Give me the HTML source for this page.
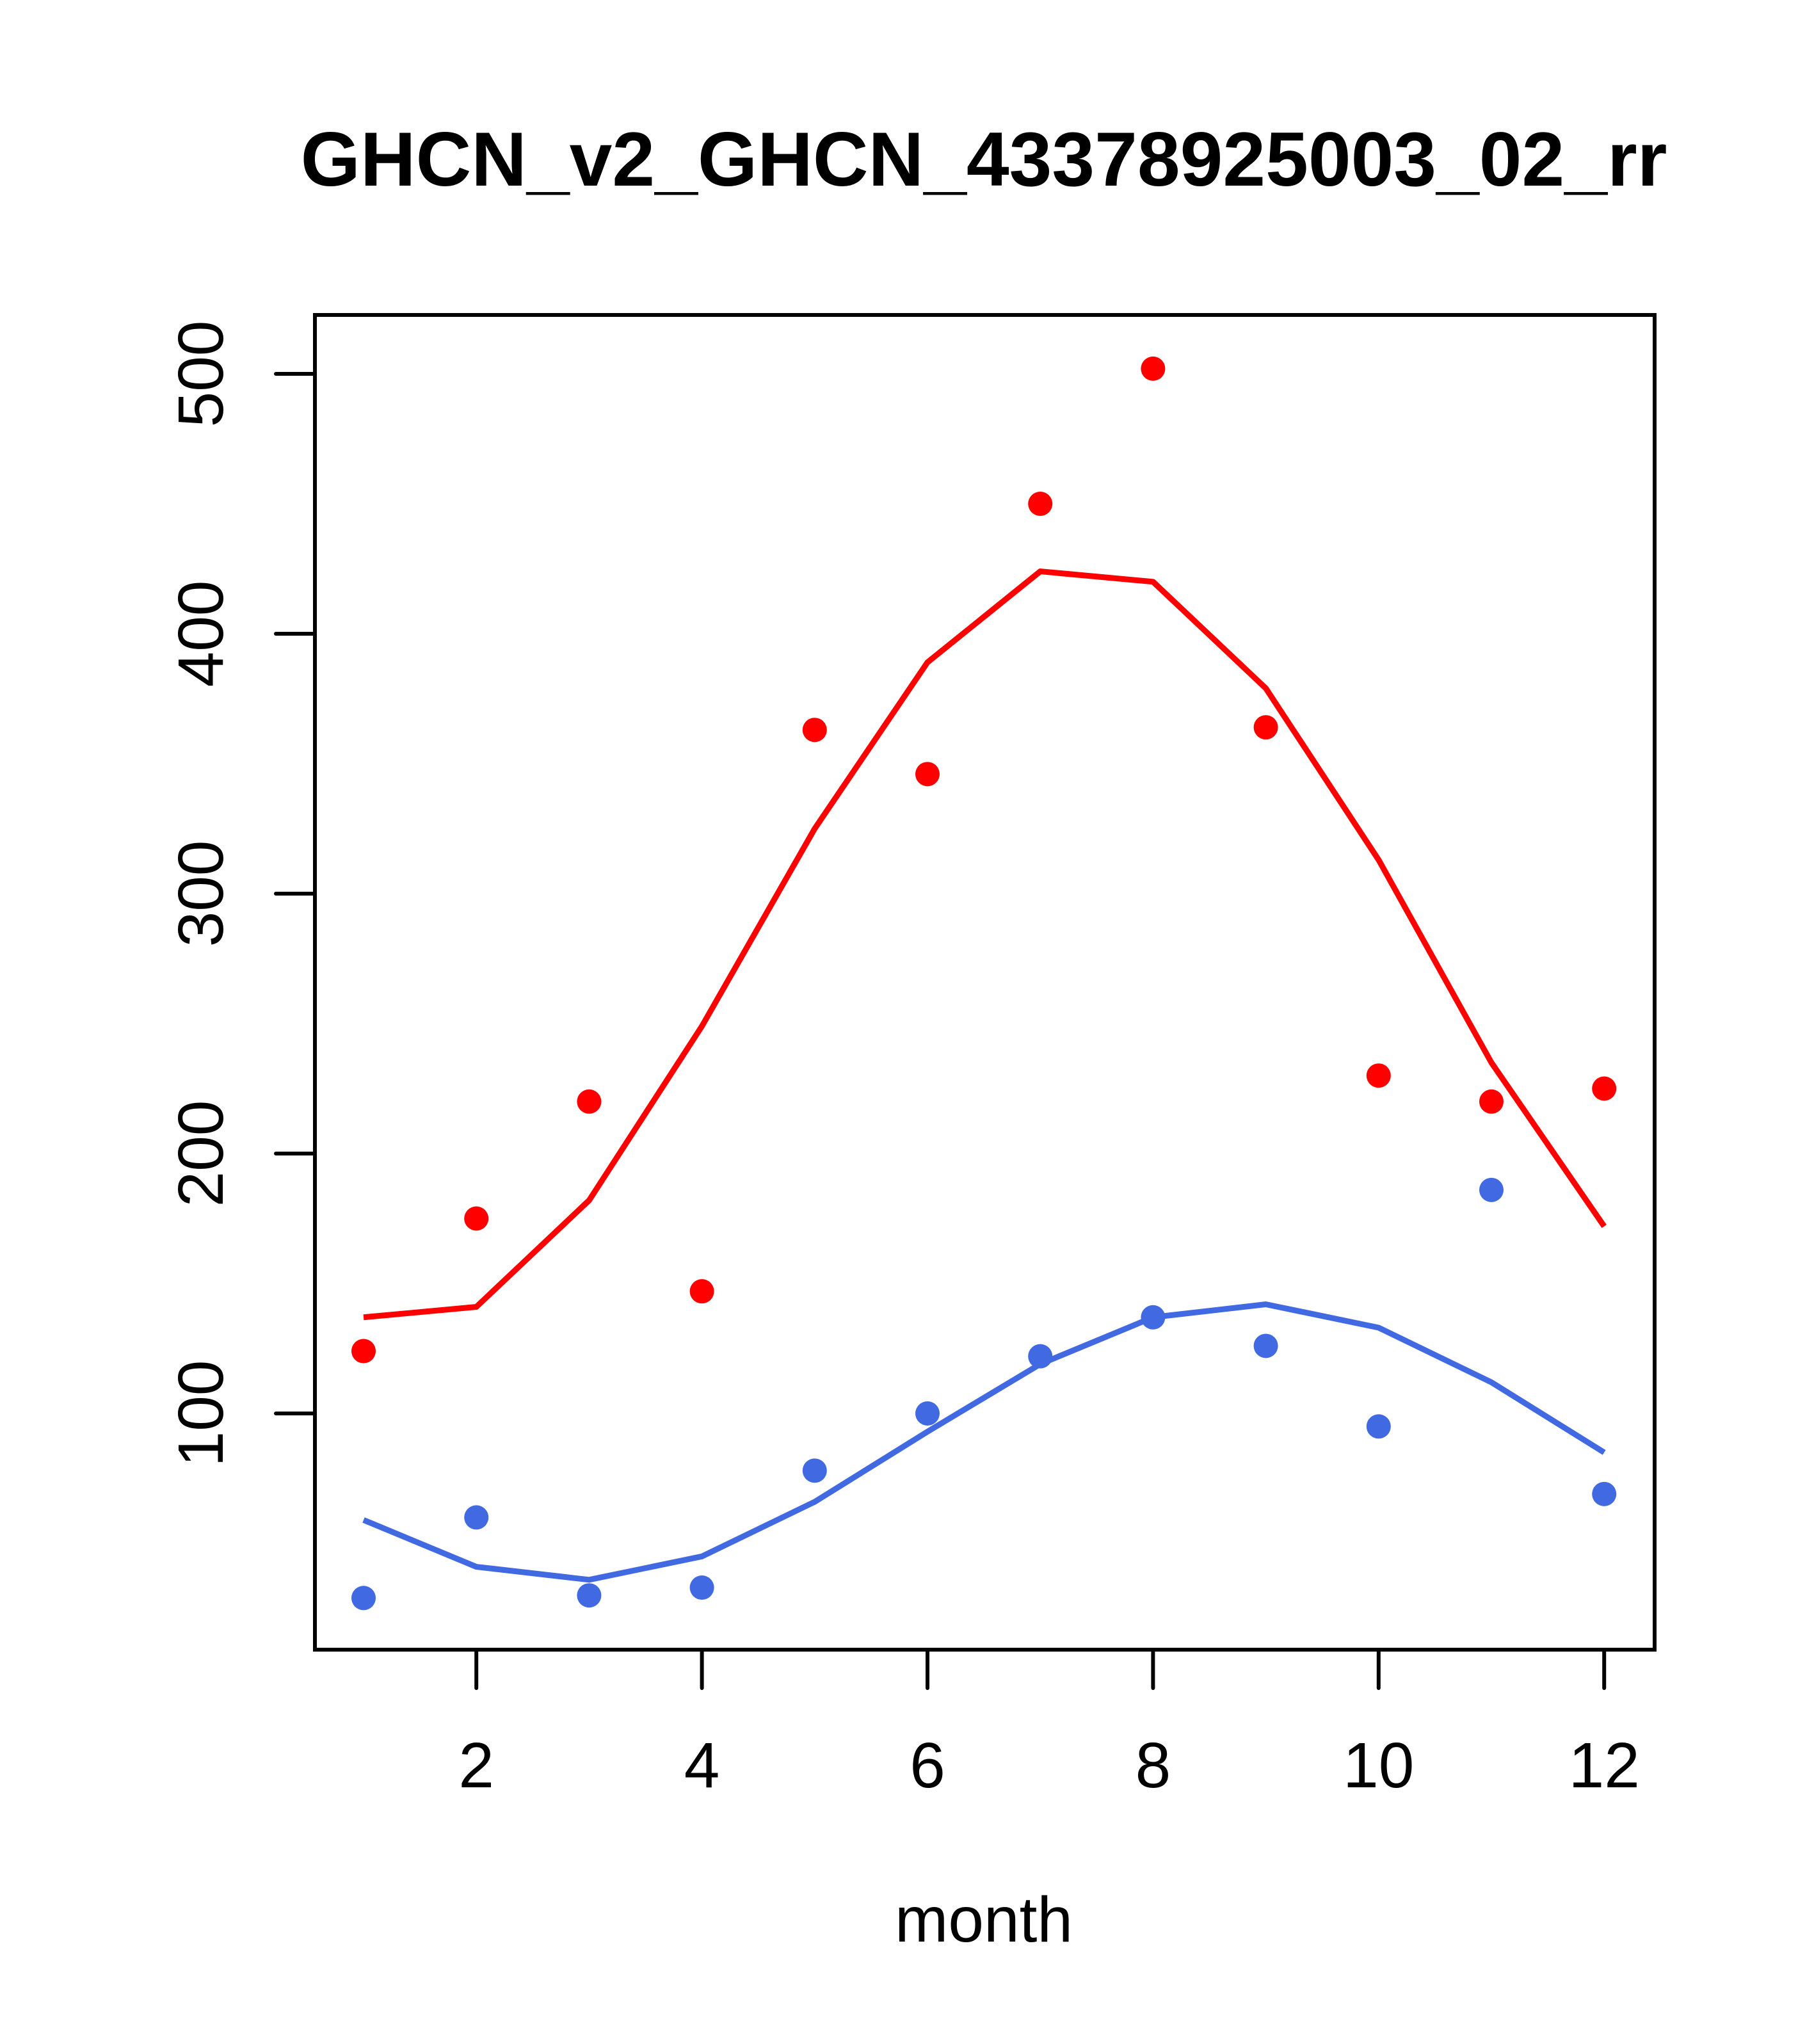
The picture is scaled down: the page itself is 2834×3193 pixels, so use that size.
<!DOCTYPE html>
<html><head><meta charset="utf-8"><style>html,body{margin:0;padding:0;background:#fff}</style></head>
<body>
<svg id="chart" width="2834" height="3188" xmlns="http://www.w3.org/2000/svg" font-family="Liberation Sans, sans-serif">
<rect width="2834" height="3188" fill="#fff"/>
<text x="1537" y="290" font-size="120" font-weight="bold" text-anchor="middle">GHCN_v2_GHCN_43378925003_02_rr</text>
<text x="1537" y="3033" font-size="100" text-anchor="middle">month</text>
<g id="axes"></g>
<g id="marks"></g>
<rect x="492" y="492" width="2093" height="2085" fill="none" stroke="#000" stroke-width="6"/>
</svg>
<script>
const months = [1,2,3,4,5,6,7,8,9,10,11,12];
const redPoints = [124,175,220,147,363,346,450,502,364,230,220,225];
const redLine = [137,141,182,249,325,389,424,420,379,313,235,172];
const bluePoints = [29,60,30,33,78,100,122,137,126,95,186,69];
const blueLine = [59,41,36,45,66,93,119,137,142,133,112,85];
const xTicks = [2,4,6,8,10,12];
const yTicks = [100,200,300,400,500];

const NS='http://www.w3.org/2000/svg';
function xs(m){return 568+(m-1)*176.2;}
function ys(v){return 2208-(v-100)*4.06;}
function mk(tag,attrs,parent){const e=document.createElementNS(NS,tag);for(const k in attrs)e.setAttribute(k,attrs[k]);parent.appendChild(e);return e;}
const axes=document.getElementById('axes'), marks=document.getElementById('marks');
xTicks.forEach(t=>{
  const l=mk('line',{x1:xs(t),x2:xs(t),y1:2577,y2:2637,stroke:'#000','stroke-width':6,'stroke-linecap':'round'},axes);
  
  
  const tx=mk('text',{x:xs(t),y:2792,'font-size':100,'text-anchor':'middle'},axes);
  tx.textContent=t;
  
  
});
yTicks.forEach(t=>{
  const l=mk('line',{x1:431,x2:492,y1:ys(t),y2:ys(t),stroke:'#000','stroke-width':6,'stroke-linecap':'round'},axes);
  
  
  const tx=mk('text',{x:0,y:0,'font-size':100,'text-anchor':'middle',transform:`translate(348,${ys(t)}) rotate(-90)`},axes);
  tx.textContent=t;
  
  
});
function series(line,pts,color,name){
  const p=mk('polyline',{points:months.map((m,i)=>xs(m)+','+ys(line[i])).join(' '),fill:'none',stroke:color,'stroke-width':9,'stroke-linejoin':'round'},marks);
  
  
  months.forEach((m,i)=>{
    const c=mk('circle',{cx:xs(m),cy:ys(pts[i]),r:19,fill:color},marks);
    
    
  });
}
series(redLine,redPoints,'#ff0000','red-series');
series(blueLine,bluePoints,'#4169e1','blue-series');
</script>
</body></html>
